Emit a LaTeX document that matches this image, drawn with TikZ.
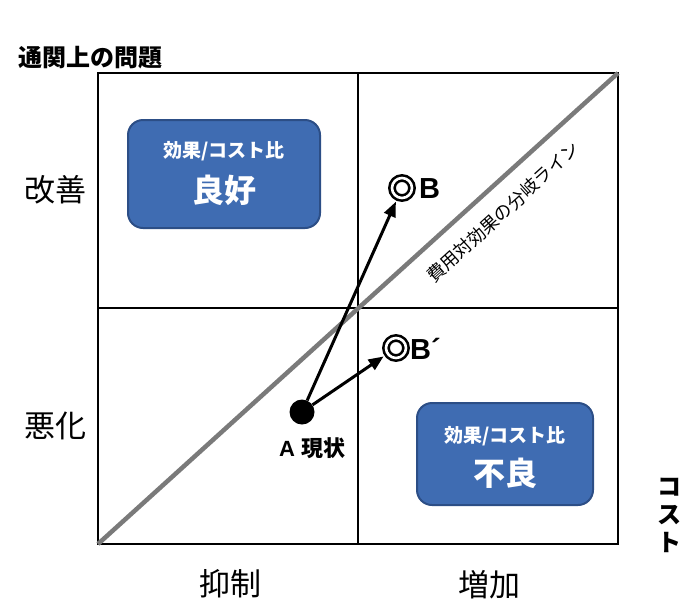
\documentclass[tikz,border=0pt]{standalone}
\usepackage{fontspec}
\setmainfont{Liberation Sans}
\newfontfamily\jp{Noto Sans CJK JP}
\usetikzlibrary{arrows.meta}
\definecolor{boxblue}{HTML}{3F6CB2}
\definecolor{boxedge}{HTML}{2C4E86}
\definecolor{diaggray}{HTML}{7A7A7A}
\begin{document}
\begin{tikzpicture}[x=1pt,y=-1pt,
  frame/.style={draw=black, line width=1.6pt},
  divider/.style={draw=black, line width=1.4pt},
  diagline/.style={draw=diaggray, line width=4.5pt},
  ratiobox/.style={draw=boxedge, line width=2pt, fill=boxblue, rounded corners=15pt, inner sep=0pt},
  ratiosmall/.style={text=white, font=\jp\bfseries\fontsize{19}{22}\selectfont, inner sep=0pt},
  ratiobig/.style={text=white, font=\jp\bfseries\fontsize{32}{36}\selectfont, inner sep=0pt},
  axislabel/.style={font=\jp\fontsize{31}{34}\selectfont, inner sep=0pt},
  pointring/.style={circle, draw=black, line width=2.6pt, double=white, double distance=2.6pt, minimum size=20pt, inner sep=0pt, outer sep=5pt},
  pointlabel/.style={font=\bfseries\fontsize{29}{32}\selectfont, inner sep=0pt, anchor=west},
  move/.style={draw=black, line width=3pt, -{Triangle[length=15pt,width=12pt]}}
]
\useasboundingbox (0,0) rectangle (700,614);

% grid
\coordinate (tl) at (98,73);
\coordinate (br) at (618,544);
\coordinate (bl) at (98,544);
\coordinate (tr) at (618,73);
\coordinate (mt) at (358,73);
\coordinate (mb) at (358,544);
\coordinate (ml) at (98,308);
\coordinate (mr) at (618,308);
\draw[divider] (mt) -- (mb);
\draw[divider] (ml) -- (mr);
\draw[frame] (tl) rectangle (br);

% break-even diagonal
\draw[diagline] (bl) -- (tr);
\node[font=\jp\fontsize{18}{21}\selectfont, rotate=42.1, inner sep=0pt] (diaglabel) at (503,212) {費用対効果の分岐ライン};

% ratio boxes
\node[ratiobox, minimum width=192pt, minimum height=108pt] (good) at (224,174) {};
\node[ratiosmall] (goodt) at (224,151) {効果/コスト比};
\node[ratiobig] (goodv) at (224,190) {良好};

\node[ratiobox, minimum width=176pt, minimum height=102pt] (bad) at (505,454) {};
\node[ratiosmall] (badt) at (505,436) {効果/コスト比};
\node[ratiobig] (badv) at (505,473) {不良};

% axis labels
\node[font=\jp\bfseries\fontsize{24}{26}\selectfont, inner sep=0pt] (yaxis) at (90,58) {通関上の問題};
\node[axislabel] (improve) at (55,190) {改善};
\node[axislabel] (worse) at (55,426) {悪化};
\node[axislabel] (restrain) at (230,584) {抑制};
\node[axislabel] (increase) at (489,585) {増加};
\node[font=\jp\bfseries\fontsize{24}{28}\selectfont, align=center, inner sep=0pt] (xaxis) at (669,515) {コ\\ス\\ト};

% points
\node[circle, fill=black, minimum size=25pt, inner sep=0pt] (A) at (302,412) {};
\node[font=\bfseries\fontsize{22}{25}\selectfont, inner sep=0pt] (Alabel) at (312,448) {A {\jp\bfseries 現状}};

\node[pointring] (B) at (402,188) {};
\node[pointlabel] (Blabel) at (419,189) {B};
\node[pointring] (Bp) at (396,348) {};
\node[pointlabel] (Bplabel) at (410,349) {B´};

\draw[move] (A) -- (B);
\draw[move] (A) -- (Bp);
\end{tikzpicture}
\end{document}
